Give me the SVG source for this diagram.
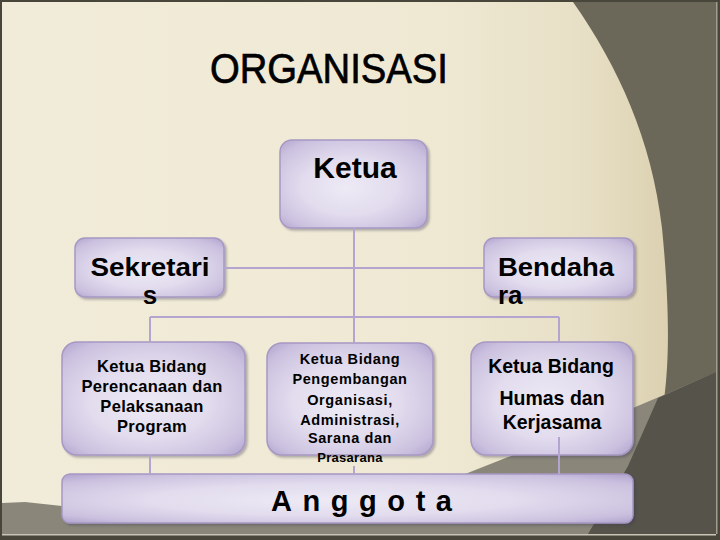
<svg xmlns="http://www.w3.org/2000/svg" width="720" height="540" viewBox="0 0 720 540">
  <defs>
    <linearGradient id="cream" x1="0" y1="0" x2="1" y2="0">
      <stop offset="0" stop-color="#F1ECD9"/>
      <stop offset="0.6" stop-color="#EFE9D4"/>
      <stop offset="0.82" stop-color="#E7DFC5"/>
      <stop offset="0.93" stop-color="#DCD1B1"/>
    </linearGradient>
    <radialGradient id="box" cx="0.5" cy="0.5" r="0.72" fx="0.45" fy="0.55">
      <stop offset="0" stop-color="#EDEAF5"/>
      <stop offset="0.45" stop-color="#E2DCEE"/>
      <stop offset="0.8" stop-color="#CBC1DF"/>
      <stop offset="1" stop-color="#AD9FCB"/>
    </radialGradient>
    <filter id="sh" x="-10%" y="-10%" width="125%" height="130%">
      <feDropShadow dx="2" dy="2" stdDeviation="1.2" flood-color="#3a3550" flood-opacity="0.35"/>
    </filter>
  </defs>
  <style>
    .node rect { fill: url(#box); stroke: #A698C4; stroke-width: 1.5; filter: url(#sh); }
    .t { font-family: "Liberation Sans", Arial, sans-serif; font-weight: bold; fill: #000; text-anchor: middle; }
    .conn { stroke: #B3A4D0; stroke-width: 2; fill: none; }
  </style>

  <!-- background -->
  <rect x="0" y="0" width="720" height="540" fill="#48453A"/>
  <rect x="2" y="2" width="714" height="532" fill="url(#cream)"/>
  <path d="M573,2 C618,66 652,140 662,228 C669,300 670,355 664,400 L716,400 L716,2 Z" fill="#6C6859"/>
  <path d="M2,503 L25,502 L62,506 L455,478 L633,408 L666,394 L716,372 L716,534 L2,534 Z" fill="#8A877A"/>
  <path d="M658,398 L716,372 L716,534 L588,534 L628,466 Z" fill="#56534A"/>
  <rect x="716" y="2" width="1.5" height="532" fill="#A19D8F"/>
  <rect x="2" y="534" width="714" height="1.5" fill="#C9C5B6"/>

  <!-- title -->
  <text x="210" y="83" font-family="'Liberation Sans Narrow', 'Liberation Sans', Arial, sans-serif" font-size="43" fill="#000" stroke="#000" stroke-width="0.7" textLength="238" lengthAdjust="spacingAndGlyphs">ORGANISASI</text>

  <g id="ketua" class="node">
    <rect x="280" y="140" width="147" height="88" rx="12"/>
    <text class="t" x="355" y="178" font-size="30">Ketua</text>
  </g>

  <g id="sekretaris" class="node">
    <rect x="75" y="238" width="149" height="59" rx="10"/>
    <text class="t" x="150" y="276" font-size="26" textLength="119" lengthAdjust="spacingAndGlyphs">Sekretari</text>
    <text class="t" x="150" y="304" font-size="26">s</text>
  </g>

  <g id="bendahara" class="node">
    <rect x="484" y="238" width="150" height="59" rx="10"/>
    <text class="t" x="498" y="276" font-size="26" style="text-anchor:start" textLength="116" lengthAdjust="spacingAndGlyphs">Bendaha</text>
    <text class="t" x="498" y="304" font-size="26" style="text-anchor:start">ra</text>
  </g>

  <g id="perencanaan" class="node">
    <rect x="62" y="342" width="183" height="113" rx="15"/>
    <text class="t" x="152" y="372" font-size="16.5" letter-spacing="0.3">Ketua Bidang</text>
    <text class="t" x="152" y="392" font-size="16.5" letter-spacing="0.3">Perencanaan dan</text>
    <text class="t" x="152" y="412" font-size="16.5" letter-spacing="0.3">Pelaksanaan</text>
    <text class="t" x="152" y="432" font-size="16.5" letter-spacing="0.3">Program</text>
  </g>

  <g id="pengembangan" class="node">
    <rect x="267" y="343" width="166" height="112" rx="15"/>
    <text class="t" x="350" y="364" font-size="14.5" letter-spacing="0.6">Ketua Bidang</text>
    <text class="t" x="350" y="384" font-size="14.5" letter-spacing="0.6">Pengembangan</text>
    <text class="t" x="350" y="405" font-size="14.5" letter-spacing="0.6">Organisasi,</text>
    <text class="t" x="350" y="425" font-size="14.5" letter-spacing="0.6">Administrasi,</text>
    <text class="t" x="350" y="443" font-size="14.5" letter-spacing="0.6">Sarana dan</text>
    <text class="t" x="350" y="462" font-size="13" letter-spacing="0.3">Prasarana</text>
  </g>

  <g id="humas" class="node">
    <rect x="471" y="342" width="162" height="113" rx="15"/>
    <text class="t" x="551" y="373" font-size="19.5">Ketua Bidang</text>
    <text class="t" x="552" y="405" font-size="19.5">Humas dan</text>
    <text class="t" x="552" y="429" font-size="19.5">Kerjasama</text>
  </g>

  <g id="anggota" class="node">
    <rect x="62" y="474" width="571" height="49" rx="8"/>
    <text class="t" x="271" y="511" font-size="29" style="text-anchor:start" textLength="181" lengthAdjust="spacing">Anggota</text>
  </g>

  <g id="connectors">
    <path class="conn" d="M354,228 V343"/>
    <path class="conn" d="M224,268 H484"/>
    <path class="conn" d="M150,317 H559"/>
    <path class="conn" d="M150,317 V342"/>
    <path class="conn" d="M559,317 V342"/>
    <path class="conn" d="M150,455 V474"/>
    <path class="conn" d="M354,466 V474"/>
    <path class="conn" d="M559,437 V474"/>
  </g>
</svg>
